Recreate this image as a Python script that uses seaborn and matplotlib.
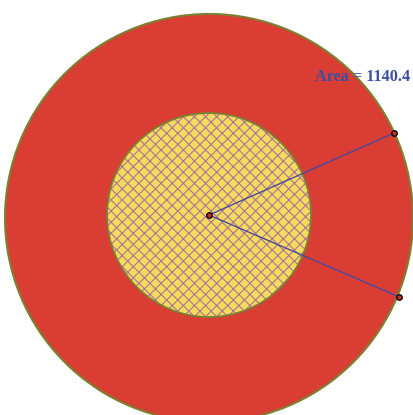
import numpy as np
import pandas as pd
import matplotlib
matplotlib.use("Agg")
import matplotlib.pyplot as plt
from matplotlib.patches import Circle
import seaborn as sns

# circle geometry (pixel units of the picture)
outer_center = [209, 218]
outer_radius = 204
center = [209, 215]
inner_radius = 102
ray_angles = [23.9, -23.3]      # degrees, measured from +x axis
ray_lengths = [202, 207]
area_label = "Area = 1140.4"

sns.set_style("white")
plt.rcParams["hatch.linewidth"] = 0.8
plt.rcParams["hatch.color"] = "#b0729c"

fig = plt.figure(figsize=(4.14, 4.15), dpi=100)
ax = fig.add_axes([0, 0, 1, 1])

# big red disc
ax.add_patch(Circle(outer_center, outer_radius, facecolor="#d93d33",
                    edgecolor="#7d8030", linewidth=1.5, zorder=1))
# inner yellow disc with crosshatch
ax.add_patch(Circle(center, inner_radius, facecolor="#f3dc5c",
                    edgecolor="none", zorder=2))
ax.add_patch(Circle(center, inner_radius, fill=False, hatch="xxx",
                    edgecolor="#b0729c", linewidth=0, zorder=3))
ax.add_patch(Circle(center, inner_radius, fill=False,
                    edgecolor="#7d8030", linewidth=1.3, zorder=4))

# rays from the centre to the outer circle
rad = np.deg2rad(ray_angles)
ends_x = center[0] + np.array(ray_lengths) * np.cos(rad)
ends_y = center[1] - np.array(ray_lengths) * np.sin(rad)
rows = []
for i, (ex, ey) in enumerate(zip(ends_x, ends_y)):
    rows.append({"x": center[0], "y": center[1], "ray": i})
    rows.append({"x": ex, "y": ey, "ray": i})
rays = pd.DataFrame(rows)

sns.lineplot(data=rays, x="x", y="y", units="ray", estimator=None,
             sort=False, color="#4a4a9e", linewidth=1.0, ax=ax, zorder=5)

pts = pd.DataFrame({"x": [center[0]] + list(ends_x),
                    "y": [center[1]] + list(ends_y)})
sns.scatterplot(data=pts, x="x", y="y", s=16, color="#c0302a",
                edgecolor="black", linewidth=0.9, ax=ax, zorder=6)

ax.text(315, 81, area_label, color="#3b4ea5", fontsize=11.7,
        fontweight="bold", family=["Liberation Serif", "DejaVu Serif"],
        ha="left", va="baseline", zorder=7)

ax.set_xlim(0, 414)
ax.set_ylim(415, 0)
ax.set_aspect("equal")
ax.axis("off")

fig.savefig("out.png", dpi=100)
